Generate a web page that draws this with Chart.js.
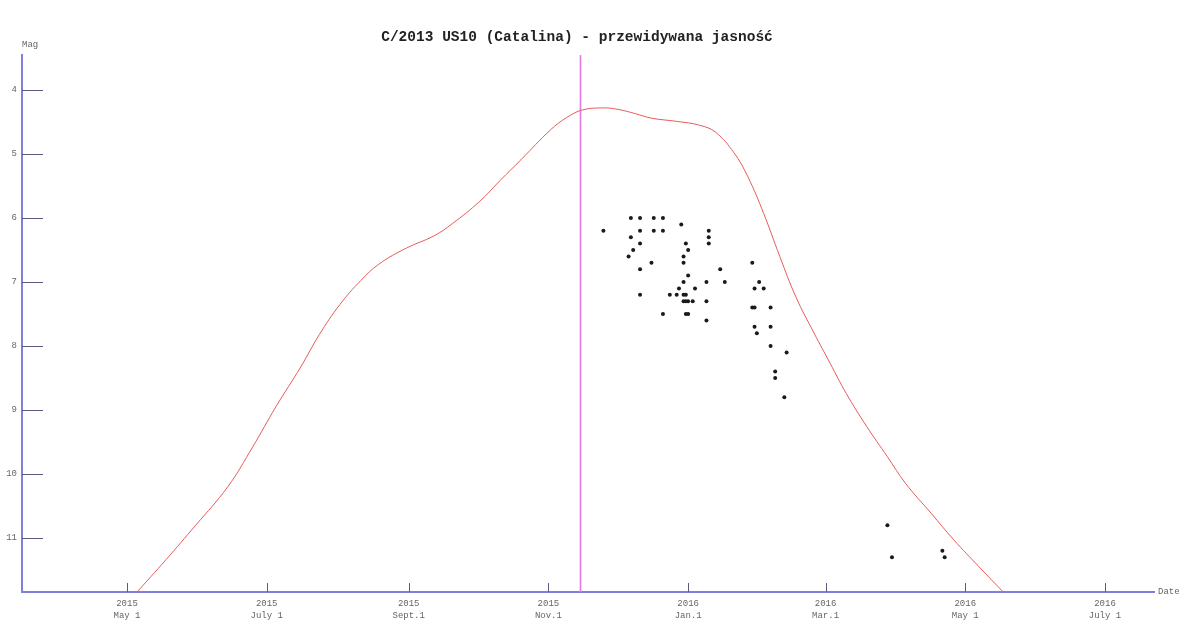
<!DOCTYPE html>
<html>
<head>
<meta charset="utf-8">
<script src="https://cdn.jsdelivr.net/npm/chart.js@4"></script>
<style>
html,body{margin:0;padding:0;background:#fff;}
#wrap{width:1197px;height:625px;position:relative;}
</style>
</head>
<body>
<div id="wrap"><canvas id="c"></canvas></div>
<script>
// Days counted from 2015-05-01
const tickDays = [0, 61, 123, 184, 245, 305, 366, 427];
const tickLabels = [["2015","May 1"],["2015","July 1"],["2015","Sept.1"],["2015","Nov.1"],["2016","Jan.1"],["2016","Mar.1"],["2016","May 1"],["2016","July 1"]];
const magTicks = [4, 5, 6, 7, 8, 9, 10, 11];

// Predicted brightness curve
const curveDays = [4, 17, 30, 44, 55, 65, 76, 84, 93, 102, 110, 122, 134, 142, 154, 163, 172, 185, 192, 199, 208, 214, 222, 229, 240, 250, 257, 265, 271, 278, 285, 292, 300, 307, 314, 323, 332, 340, 351, 361, 372, 383];
const curveMags = [11.86, 11.34, 10.80, 10.2, 9.57, 8.95, 8.32, 7.82, 7.35, 6.98, 6.72, 6.47, 6.28, 6.09, 5.74, 5.41, 5.09, 4.62, 4.43, 4.31, 4.28, 4.30, 4.37, 4.44, 4.49, 4.55, 4.66, 4.98, 5.35, 5.93, 6.60, 7.23, 7.80, 8.27, 8.74, 9.26, 9.73, 10.15, 10.61, 11.03, 11.45, 11.86];

// Observations
const obsDays = [220,224,230,234, 208,224,230,234,254, 242, 220,254, 224,244,254, 221,245, 219,243, 229,243,273, 224,259, 245, 243,253,261,276, 241,248,274,278, 224,237,240,243,244, 243,244,245,247,253, 273,274,281, 234,244,245, 253, 274,281, 275, 281, 288, 283, 283, 287, 332,334,356,357];
const obsMags = [6.0,6.0,6.0,6.0, 6.2,6.2,6.2,6.2,6.2, 6.1, 6.3,6.3, 6.4,6.4,6.4, 6.5,6.5, 6.6,6.6, 6.7,6.7,6.7, 6.8,6.8, 6.9, 7.0,7.0,7.0,7.0, 7.1,7.1,7.1,7.1, 7.2,7.2,7.2,7.2,7.2, 7.3,7.3,7.3,7.3,7.3, 7.4,7.4,7.4, 7.5,7.5,7.5, 7.6, 7.7,7.7, 7.8, 8.0, 8.1, 8.4, 8.5, 8.8, 10.8,11.3,11.2,11.3];

// Perihelion date (2015-11-15)
const perihelionDay = 198;

const xMin = -45.84, xMax = 448.4;
const yMin = 3.453, yMax = 11.844;

const fontMono = '"Liberation Mono", "DejaVu Sans Mono", monospace';

const extras = {
  id: 'extras',
  afterDraw(chart) {
    const ctx = chart.ctx;
    const xs = chart.scales.x, ys = chart.scales.y;
    ctx.save();
    ctx.strokeStyle = '#5a5a80';
    ctx.lineWidth = 1;
    magTicks.forEach(m => {
      const py = Math.round(ys.getPixelForValue(m)) + 0.5;
      ctx.beginPath(); ctx.moveTo(xs.left, py); ctx.lineTo(xs.left + 21, py); ctx.stroke();
    });
    tickDays.forEach(d => {
      const px = Math.round(xs.getPixelForValue(d)) + 0.5;
      ctx.beginPath(); ctx.moveTo(px, ys.bottom); ctx.lineTo(px, ys.bottom - 9); ctx.stroke();
    });
    ctx.fillStyle = '#666';
    ctx.font = '9px ' + fontMono;
    ctx.textBaseline = 'middle';
    ctx.textAlign = 'left';
    ctx.fillText('Mag', 22, 45);
    ctx.fillText('Date', xs.right + 4, ys.bottom);
    ctx.restore();
  }
};

new Chart(document.getElementById('c'), {
  type: 'scatter',
  data: {
    datasets: [
      {
        type: 'line',
        data: curveDays.map((d, i) => ({x: d, y: curveMags[i]})),
        borderColor: 'rgb(232,90,90)',
        borderWidth: 1,
        pointRadius: 0,
        tension: 0.4,
        fill: false,
        order: 2
      },
      {
        type: 'line',
        data: [{x: perihelionDay, y: yMin}, {x: perihelionDay, y: yMax}],
        borderColor: 'rgb(228,120,228)',
        borderWidth: 1.6,
        pointRadius: 0,
        fill: false,
        order: 3
      },
      {
        data: obsDays.map((d, i) => ({x: d, y: obsMags[i]})),
        backgroundColor: '#1a1a1a',
        borderColor: '#1a1a1a',
        borderWidth: 0,
        pointRadius: 2,
        pointStyle: 'circle',
        order: 1
      }
    ]
  },
  options: {
    responsive: true,
    maintainAspectRatio: false,
    animation: false,
    layout: {padding: {left: 0, right: 43, top: 0, bottom: 0}},
    plugins: {
      legend: {display: false},
      tooltip: {enabled: false},
      title: {
        display: true,
        text: 'C/2013 US10 (Catalina) - przewidywana jasność',
        color: '#222',
        font: {family: fontMono, size: 14.5, weight: 'bold', lineHeight: 1.2},
        padding: {top: 29, bottom: 8.6}
      }
    },
    scales: {
      x: {
        type: 'linear',
        min: xMin, max: xMax,
        afterBuildTicks(s) { s.ticks = tickDays.map(v => ({value: v})); },
        afterFit(s) { s.height = 33; },
        grid: {display: false, drawTicks: false},
        border: {display: true, color: 'rgb(128,128,220)', width: 2},
        ticks: {
          autoSkip: false, maxRotation: 0, padding: 5,
          color: '#666',
          font: {family: fontMono, size: 9, lineHeight: 1.4},
          callback(v, i) { return tickLabels[i]; }
        }
      },
      y: {
        type: 'linear',
        reverse: true,
        min: yMin, max: yMax,
        afterBuildTicks(s) { s.ticks = magTicks.map(v => ({value: v})); },
        afterFit(s) { s.width = 22; },
        grid: {display: false, drawTicks: false},
        border: {display: true, color: 'rgb(128,128,220)', width: 2},
        ticks: {
          padding: 5, color: '#666',
          font: {family: fontMono, size: 9},
          callback(v) { return String(v); }
        }
      }
    }
  },
  plugins: [extras]
});
</script>
</body>
</html>
